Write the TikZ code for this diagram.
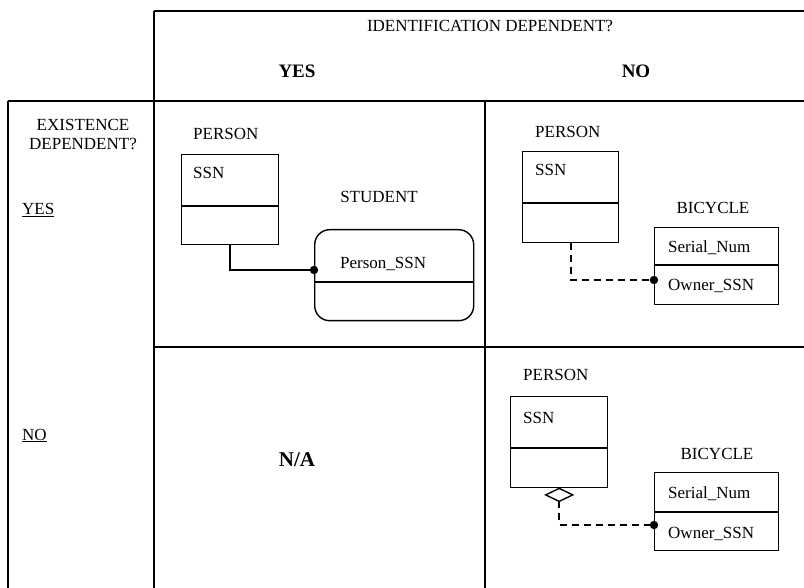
\documentclass[tikz,border=0pt]{standalone}
\usepackage{fontspec}
\setmainfont{Liberation Serif}
\begin{document}
\begin{tikzpicture}[x=1pt,y=-1pt,
  frame/.style={line width=1.7pt},
  entity/.style={draw,line width=1.4pt,rectangle,inner sep=0pt,anchor=north west},
  lbl/.style={inner sep=0pt,font=\fontsize{17}{19}\selectfont},
  head/.style={inner sep=0pt,font=\fontsize{19}{21}\selectfont\bfseries},
  link/.style={line width=1.5pt},
  dlink/.style={line width=1.7pt,dash pattern=on 7pt off 5pt},
  keydot/.style={fill=black}]
\useasboundingbox (0,0) rectangle (804,588);

% table frame
\draw[frame] (154,11) -- (804,11);
\draw[frame] (154,11) -- (154,588);
\draw[frame] (8,101) -- (804,101);
\draw[frame] (8,101) -- (8,588);
\draw[frame] (485,101) -- (485,588);
\draw[frame] (154,347) -- (804,347);

% headings
\node[lbl,anchor=base] (hid) at (490,32) {IDENTIFICATION DEPENDENT?};
\node[head,anchor=base] (hyes) at (297,78) {YES};
\node[head,anchor=base] (hno) at (636,78) {NO};
\node[lbl,anchor=base] (hex1) at (83,131) {EXISTENCE};
\node[lbl,anchor=base] (hex2) at (83,150) {DEPENDENT?};
\node[lbl,anchor=base west] (ryes) at (22,215) {\underline{YES}};
\node[lbl,anchor=base west] (rno) at (22,440) {\underline{NO}};
\node[head,anchor=base,font=\fontsize{21}{23}\selectfont\bfseries] (na) at (297,466) {N/A};

% existence and identification dependent: PERSON -- STUDENT
\node[lbl,anchor=base west] (t1) at (193,140) {PERSON};
\node[entity,minimum width=97pt,minimum height=90pt] (p1) at (181,154) {};
\draw[line width=1.4pt] (p1.west |- 0,206) -- (p1.east |- 0,206);
\node[lbl,anchor=base west] (a1) at (193,179) {SSN};
\node[lbl,anchor=base] (t2) at (379,203) {STUDENT};
\node[entity,rounded corners=15pt,minimum width=159pt,minimum height=91pt] (s1) at (314,229) {};
\draw[line width=1.4pt] (s1.west |- 0,282) -- (s1.east |- 0,282);
\node[lbl,anchor=base west] (a2) at (340,269) {Person\_SSN};
\coordinate (k1) at (s1.west |- 0,270);
\draw[link] (p1.south) |- (k1);
\fill[keydot] (k1) circle (4.2pt);

% existence dependent only: PERSON -- BICYCLE
\node[lbl,anchor=base west] (t3) at (535,138) {PERSON};
\node[entity,minimum width=96pt,minimum height=91pt] (p2) at (522,151) {};
\draw[line width=1.4pt] (p2.west |- 0,203) -- (p2.east |- 0,203);
\node[lbl,anchor=base west] (a3) at (535,176) {SSN};
\node[lbl,anchor=base] (t4) at (713,214) {BICYCLE};
\node[entity,minimum width=124pt,minimum height=77pt] (b1) at (654,227) {};
\draw[line width=1.4pt] (b1.west |- 0,265) -- (b1.east |- 0,265);
\node[lbl,anchor=base west] (a4) at (668,253) {Serial\_Num};
\node[lbl,anchor=base west] (a5) at (668,291) {Owner\_SSN};
\coordinate (k2) at (b1.west |- 0,280);
\draw[dlink] (p2.south) |- (k2);
\fill[keydot] (k2) circle (4.2pt);

% neither: PERSON <>-- BICYCLE
\node[lbl,anchor=base west] (t5) at (523,381) {PERSON};
\node[entity,minimum width=97pt,minimum height=91pt] (p3) at (510,396) {};
\draw[line width=1.4pt] (p3.west |- 0,448) -- (p3.east |- 0,448);
\node[lbl,anchor=base west] (a6) at (523,423) {SSN};
\node[lbl,anchor=base] (t6) at (717,459) {BICYCLE};
\node[entity,minimum width=124pt,minimum height=78pt] (b2) at (654,472) {};
\draw[line width=1.4pt] (b2.west |- 0,512) -- (b2.east |- 0,512);
\node[lbl,anchor=base west] (a7) at (668,498) {Serial\_Num};
\node[lbl,anchor=base west] (a8) at (668,538) {Owner\_SSN};
\draw[line width=1.4pt,fill=white] (p3.south) -- ++(13.5,6.5) coordinate (dr)
  -- ++(-13.5,6.5) coordinate (d3) -- ++(-13.5,-6.5) -- cycle;
\coordinate (k3) at (b2.west |- 0,525);
\draw[dlink] (d3) |- (k3);
\fill[keydot] (k3) circle (4.2pt);
\end{tikzpicture}
\end{document}
